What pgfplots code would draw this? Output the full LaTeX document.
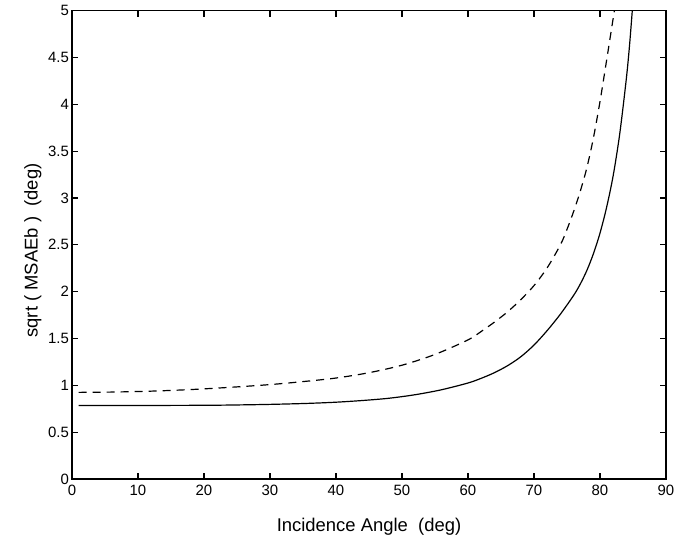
\documentclass[border=0pt]{standalone}
\usepackage{pgfplots}
\pgfplotsset{compat=1.18}
\usepackage{fontspec}
\setmainfont{Liberation Sans}
\begin{document}
\begin{tikzpicture}
\path[use as bounding box] (-72bp,-59bp) rectangle (614bp,479bp);
\begin{axis}[
  at={(0,0)}, anchor=south west,
  scale only axis, width=594bp, height=468.3bp,
  xmin=0, xmax=90, ymin=0, ymax=5,
  xtick={0,10,...,90},
  ytick={0,0.5,...,5},
  yticklabels={0,0.5,1,1.5,2,2.5,3,3.5,4,4.5,5},
  xticklabels={0,10,20,30,40,50,60,70,80,90},
  tick align=inside, tick pos=both,
  major tick length=6bp,
  line width=1.5pt,
  every tick/.style={black, line width=1.1pt},
  tick label style={font=\fontsize{15}{18}\selectfont},
  xticklabel style={yshift=-2bp},
  yticklabel style={xshift=1bp},
  /pgf/number format/assume math mode=true,
  xlabel={Incidence Angle\ \ (deg)},
  ylabel={sqrt ( MSAEb )\ \ (deg)},
  label style={font=\fontsize{18.5}{22}\selectfont},
  xlabel style={at={(axis description cs:0.5,0)}, anchor=base, yshift=-52bp},
  ylabel style={at={(axis description cs:0,0.488)}, anchor=base, yshift=34.5bp},
]
\addplot[black, line width=1.2pt, smooth] coordinates {
(1,0.785) (8,0.785) (16,0.786) (22,0.788) (28,0.794) (32,0.8) (36,0.808)
(40,0.82) (44,0.838) (48,0.862) (52,0.9) (56,0.953) (60,1.025) (62,1.075)
(64,1.135) (66,1.21) (68,1.305) (70,1.43) (72,1.585) (74,1.76) (76,1.96)
(77,2.08) (78,2.225) (79,2.405) (80,2.625) (81,2.9) (82,3.24) (83,3.69)
(84,4.28) (84.5,4.65) (85,5.1)
};
\addplot[black, line width=1.2pt, dash pattern=on 8bp off 6bp, smooth] coordinates {
(1,0.925) (6,0.928) (12,0.938) (18,0.955) (24,0.979) (30,1.008)
(35,1.04) (40,1.078) (45,1.135) (50,1.215) (55,1.33) (60,1.485) (62,1.575)
(64,1.675) (66,1.785) (68,1.915) (70,2.065) (72,2.255) (74,2.5) (75,2.665)
(76,2.855) (77,3.07) (78,3.32) (79,3.64) (80,4.03) (81,4.47) (82,4.92)
(82.3,5.06)
};
\end{axis}
\end{tikzpicture}
\end{document}
